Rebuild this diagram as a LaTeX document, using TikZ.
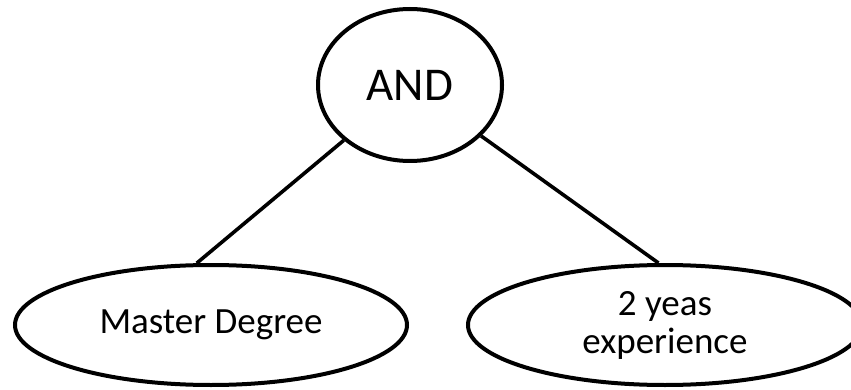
\documentclass[tikz,border=0pt]{standalone}
\usepackage{fontspec}
\setmainfont{Carlito}
\usetikzlibrary{shapes.geometric}
\begin{document}
\begin{tikzpicture}[x=1pt,y=-1pt,
  oval/.style={ellipse,draw=black,line width=4pt,inner sep=0pt,align=center},
  link/.style={draw=black,line width=3.6pt}]
  \fill[white] (0,0) rectangle (851,390);
  \useasboundingbox (0,0) rectangle (851,390);
  \clip (0,0) rectangle (851,390);
  % parent node
  \node[oval,minimum width=184pt,minimum height=152pt,font=\fontsize{47}{56}\selectfont]
    (and) at (410,85) {AND};
  % children
  \node[oval,minimum width=392pt,minimum height=120pt,font=\fontsize{37}{44}\selectfont]
    (master) at (211,325) {Master Degree};
  \node[oval,minimum width=394pt,minimum height=120pt,font=\fontsize{37}{38}\selectfont]
    (exp) at (665,325) {2 yeas\\experience};
  % connectors
  \draw[link] (and) -- (master.103);
  \draw[link] (and) -- (exp.96);
\end{tikzpicture}
\end{document}
